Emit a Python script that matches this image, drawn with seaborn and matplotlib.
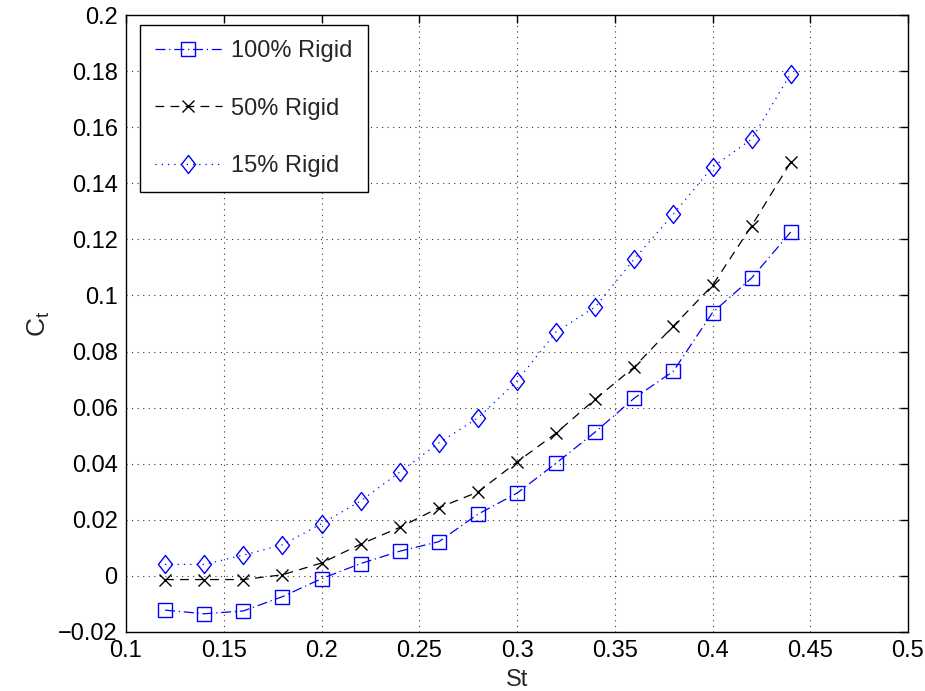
import matplotlib
matplotlib.use("Agg")
import matplotlib.pyplot as plt
import seaborn as sns
import pandas as pd
from matplotlib.path import Path

st = [0.12, 0.14, 0.16, 0.18, 0.20, 0.22, 0.24, 0.26, 0.28, 0.30,
      0.32, 0.34, 0.36, 0.38, 0.40, 0.42, 0.44]
ct_100 = [-0.0122, -0.0135, -0.0125, -0.0074, -0.0010, 0.0044, 0.0088, 0.0122,
          0.0220, 0.0295, 0.0402, 0.0513, 0.0634, 0.0730, 0.0939, 0.1062, 0.1226]
ct_50 = [-0.0013, -0.0013, -0.0013, 0.0004, 0.0046, 0.0113, 0.0173, 0.0243,
         0.0299, 0.0406, 0.0509, 0.0630, 0.0745, 0.0891, 0.1036, 0.1248, 0.1475]
ct_15 = [0.0041, 0.0041, 0.0074, 0.0111, 0.0186, 0.0267, 0.0370, 0.0474,
         0.0563, 0.0695, 0.0870, 0.0959, 0.1130, 0.1290, 0.1458, 0.1557, 0.1791]
labels = ["100% Rigid", "50% Rigid", "15% Rigid"]
xticks = [0.1, 0.15, 0.2, 0.25, 0.3, 0.35, 0.4, 0.45, 0.5]
xticklabels = ["0.1", "0.15", "0.2", "0.25", "0.3", "0.35", "0.4", "0.45", "0.5"]
yticks = [-0.02, 0, 0.02, 0.04, 0.06, 0.08, 0.1, 0.12, 0.14, 0.16, 0.18, 0.2]
yticklabels = ["\u22120.02", "0", "0.02", "0.04", "0.06", "0.08", "0.1",
               "0.12", "0.14", "0.16", "0.18", "0.2"]

sns.set_style("white")
plt.rcParams["font.family"] = ["Liberation Sans", "DejaVu Sans"]

diamond = Path([(0, 1), (0.78, 0), (0, -1), (-0.78, 0), (0, 1)],
               [Path.MOVETO, Path.LINETO, Path.LINETO, Path.LINETO, Path.CLOSEPOLY])

fig = plt.figure(figsize=(9.25, 6.91), dpi=100)
ax = fig.add_axes([126 / 925, 1 - 632 / 691, (908 - 126) / 925, (632 - 15) / 691])

styles = [
    dict(color="#0000ff", marker="s", markersize=10, dashes=(8, 3, 1, 3)),
    dict(color="black", marker="x", markersize=9, dashes=(7, 5)),
    dict(color="#0000ff", marker=diamond, markersize=13, dashes=(1, 4)),
]
for vals, lab, kw in zip([ct_100, ct_50, ct_15], labels, styles):
    df = pd.DataFrame({"St": st, "Ct": vals})
    sns.lineplot(data=df, x="St", y="Ct", ax=ax, label=lab,
                 color=kw["color"], linewidth=0.9, legend=False)
    line = ax.lines[-1]
    line.set_label(lab)
    line.set_dashes(kw["dashes"])
    line.set_marker(kw["marker"])
    line.set_markersize(kw["markersize"])
    line.set_markerfacecolor("none")
    line.set_markeredgecolor(kw["color"])
    line.set_markeredgewidth(1.0)

ax.set_xlim(0.1, 0.5)
ax.set_ylim(-0.02, 0.2)
ax.set_xticks(xticks)
ax.set_xticklabels(xticklabels)
ax.set_yticks(yticks)
ax.set_yticklabels(yticklabels)
ax.tick_params(direction="in", length=6, width=1, labelsize=17, top=True, right=True,
               colors="black", pad=6)
ax.grid(True, linestyle=(0, (1, 4)), color="black", linewidth=0.8, alpha=0.8)
for s in ax.spines.values():
    s.set_color("black")
    s.set_linewidth(1.0)
ax.set_xlabel("St", fontsize=17, labelpad=5)
ax.set_ylabel("C$_\\mathregular{t}$", fontsize=19, labelpad=4)

leg = ax.legend(handles=ax.lines[:3], labels=labels, loc="upper left",
                bbox_to_anchor=(0.018, 0.984), fontsize=17,
                frameon=True, fancybox=False, edgecolor="black", framealpha=1,
                handlelength=2.8, labelspacing=1.5, borderpad=0.65, handletextpad=0.4,
                borderaxespad=0)
leg.get_frame().set_linewidth(1.0)

fig.savefig("out.png", dpi=100)
